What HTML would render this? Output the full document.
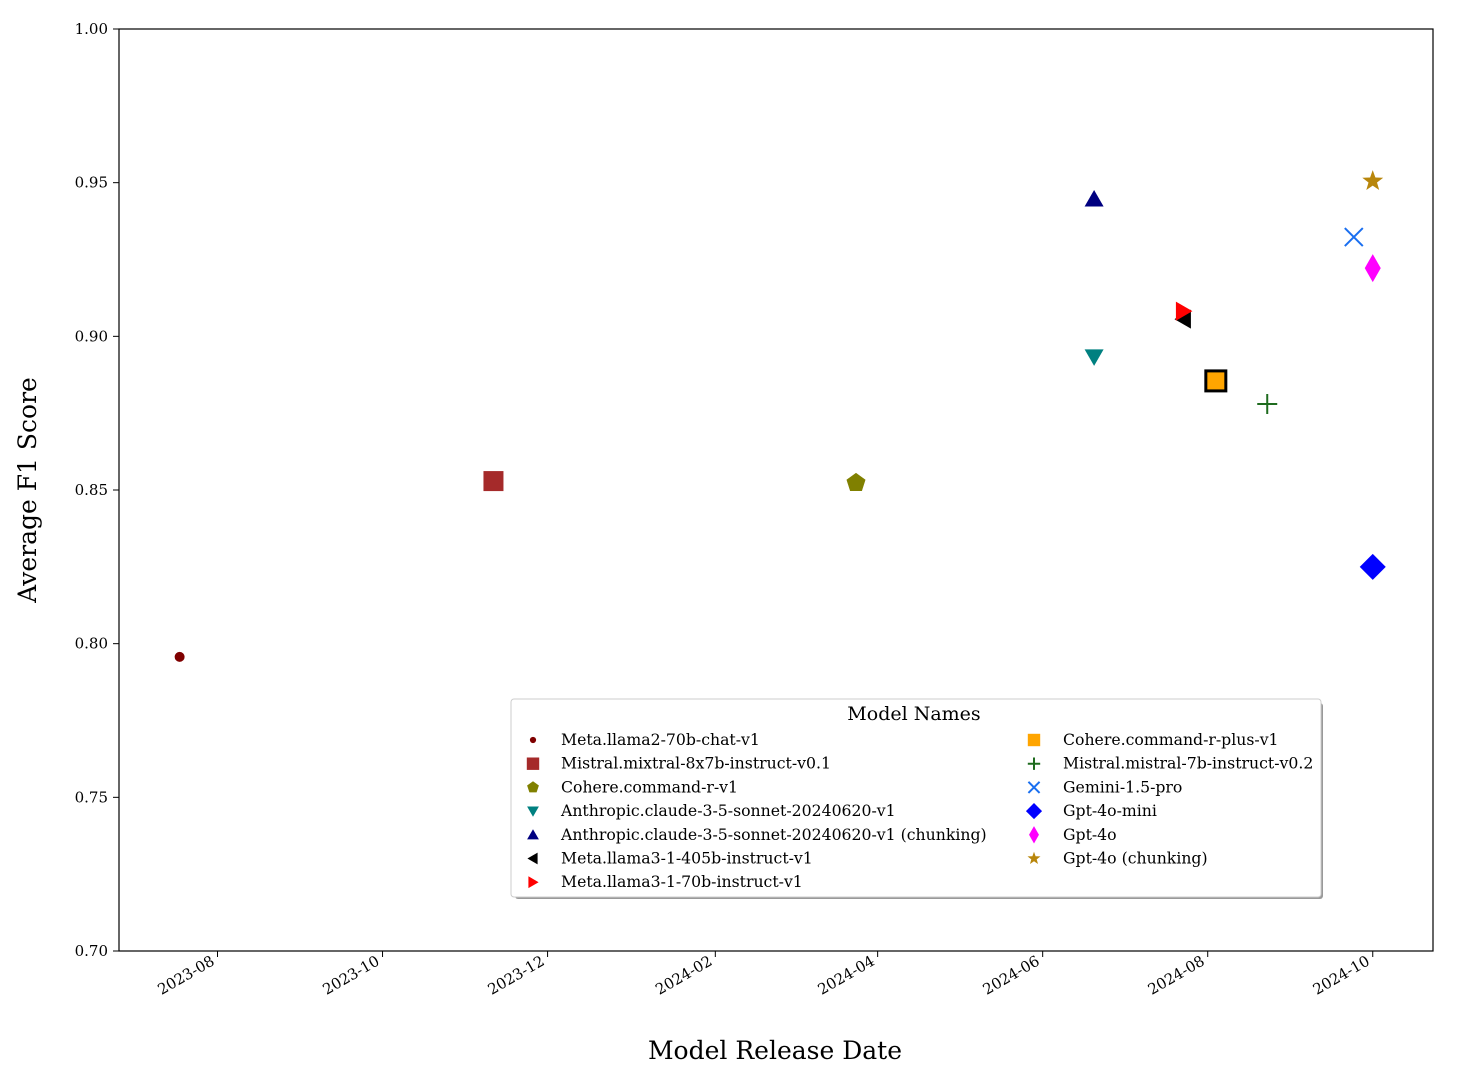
<!DOCTYPE html>
<html><head><meta charset="utf-8"><style>
body{margin:0;background:#fff}
svg{font-family:"DejaVu Serif","Liberation Serif",serif}
</style></head><body>
<svg id="chart" width="1459" height="1079" xmlns="http://www.w3.org/2000/svg">
<rect width="1459" height="1079" fill="#fff"/>
<g id="marks"></g>
<rect x="119" y="29" width="1314" height="922" fill="none" stroke="#000" stroke-width="1.2"/>
<g id="axes"></g>
<text x="775" y="1059" font-size="25" text-anchor="middle">Model Release Date</text>
<text transform="translate(36,490) rotate(-90)" font-size="25" text-anchor="middle">Average F1 Score</text>
<g id="legend"></g>
</svg>
<script>
const models=["Meta.llama2-70b-chat-v1","Mistral.mixtral-8x7b-instruct-v0.1","Cohere.command-r-v1","Anthropic.claude-3-5-sonnet-20240620-v1","Anthropic.claude-3-5-sonnet-20240620-v1 (chunking)","Meta.llama3-1-405b-instruct-v1","Meta.llama3-1-70b-instruct-v1","Cohere.command-r-plus-v1","Mistral.mistral-7b-instruct-v0.2","Gemini-1.5-pro","Gpt-4o-mini","Gpt-4o","Gpt-4o (chunking)"];
const dates=["2023-07-18","2023-11-11","2024-03-24","2024-06-20","2024-06-20","2024-07-23","2024-07-23","2024-08-04","2024-08-23","2024-09-24","2024-10-01","2024-10-01","2024-10-01"];
const scores=[0.7957,0.8529,0.8523,0.8933,0.9447,0.9056,0.9082,0.8855,0.878,0.9323,0.825,0.9222,0.9505];
const yTicks=[0.70,0.75,0.80,0.85,0.90,0.95,1.00];
const xTicks=["2023-08","2023-10","2023-12","2024-02","2024-04","2024-06","2024-08","2024-10"];
const shapes=["circle","square","pentagon","tridown","triup","trileft","triright","sqborder","plus","x","diamond","thindiamond","star"];
const colors=["#7f0000","#a52a2a","#808000","#008080","#000080","#000000","#ff0000","#ffa500","#1e6b1e","#1a6ff0","#0000ff","#ff00ff","#b8860b"];
const NS="http://www.w3.org/2000/svg";
const base=Date.UTC(2023,7,1);
function xs(d){const p=d.split("-").map(Number);const t=Date.UTC(p[0],p[1]-1,p[2]||1);return 217.5+(t-base)/86400000*2.7055;}
function ys(v){return 951-(v-0.70)/0.30*922;}
function el(tag,attrs,parent){const e=document.createElementNS(NS,tag);for(const k in attrs)e.setAttribute(k,attrs[k]);parent.appendChild(e);return e;}
function poly(n,r,rot,cx,cy){let p=[];for(let i=0;i<n;i++){const a=rot+i*2*Math.PI/n;p.push((cx+r*Math.cos(a)).toFixed(1)+","+(cy+r*Math.sin(a)).toFixed(1));}return p.join(" ");}
function marker(g,shape,c,cx,cy,s){
 let e;
 switch(shape){
 case"circle":e=el("circle",{cx,cy,r:5*s,fill:c},g);break;
 case"square":e=el("rect",{x:cx-10*s,y:cy-10*s,width:20*s,height:20*s,fill:c},g);break;
 case"sqborder":e=el("rect",{x:cx-10*s,y:cy-10*s,width:20*s,height:20*s,fill:c,stroke:s<1?"none":"#000","stroke-width":3},g);break;
 case"pentagon":e=el("polygon",{points:poly(5,10*s,-Math.PI/2,cx,cy),fill:c},g);break;
 case"triup":e=el("polygon",{points:poly(3,11*s,-Math.PI/2,cx,cy+2*s),fill:c},g);break;
 case"tridown":e=el("polygon",{points:poly(3,11*s,Math.PI/2,cx,cy-2*s),fill:c},g);break;
 case"trileft":e=el("polygon",{points:poly(3,11*s,Math.PI,cx+2*s,cy),fill:c},g);break;
 case"triright":e=el("polygon",{points:poly(3,11*s,0,cx-2*s,cy),fill:c},g);break;
 case"plus":e=el("path",{d:`M${cx-10*s},${cy}H${cx+10*s}M${cx},${cy-10*s}V${cy+10*s}`,stroke:c,"stroke-width":2,fill:"none"},g);break;
 case"x":e=el("path",{d:`M${cx-9*s},${cy-9*s}L${cx+9*s},${cy+9*s}M${cx-9*s},${cy+9*s}L${cx+9*s},${cy-9*s}`,stroke:c,"stroke-width":2,fill:"none"},g);break;
 case"diamond":e=el("polygon",{points:`${cx},${cy-13*s} ${cx+13*s},${cy} ${cx},${cy+13*s} ${cx-13*s},${cy}`,fill:c},g);break;
 case"thindiamond":e=el("polygon",{points:`${cx},${cy-14*s} ${cx+8*s},${cy} ${cx},${cy+14*s} ${cx-8*s},${cy}`,fill:c},g);break;
 case"star":{let p=[];for(let i=0;i<10;i++){const r=i%2?4.5*s:11*s;const a=-Math.PI/2+i*Math.PI/5;p.push((cx+r*Math.cos(a)).toFixed(1)+","+(cy+r*Math.sin(a)).toFixed(1));}e=el("polygon",{points:p.join(" "),fill:c},g);break;}
 }
 return e;
}
const marks=document.getElementById("marks");
models.forEach((m,i)=>{
 const g=el("g",{},marks);
 
 
 marker(g,shapes[i],colors[i],xs(dates[i]),ys(scores[i]),1);
});
const axes=document.getElementById("axes");
yTicks.forEach(v=>{
 const y=ys(v);
 el("line",{x1:113,x2:119,y1:y,y2:y,stroke:"#000"},axes);
 const t=el("text",{x:108,y:y+5,"font-size":15,"text-anchor":"end"},axes);
 t.textContent=v.toFixed(2);
 
 
});
xTicks.forEach(d=>{
 const x=xs(d);
 el("line",{x1:x,x2:x,y1:951,y2:957,stroke:"#000"},axes);
 const t=el("text",{x:x-2,y:964,"font-size":15,"text-anchor":"end",transform:`rotate(-30 ${x-2} 964)`},axes);
 t.textContent=d;
 
 
});
const lg=document.getElementById("legend");
el("rect",{x:515,y:703,width:808,height:196,fill:"#999",rx:3},lg);
el("rect",{x:511,y:699,width:810,height:198,fill:"#fff",stroke:"#ccc",rx:3},lg);
const lt=el("text",{x:914,y:720,"font-size":19,"text-anchor":"middle"},lg);
lt.textContent="Model Names";
models.forEach((m,i)=>{
 const col=i<7?0:1,row=i<7?i:i-7;
 const y=740+row*23.7;
 const mx=col?1034:533,tx=col?1063:561;
 const g=el("g",{},lg);
 
 
 marker(g,shapes[i],colors[i],mx,y,0.62);
 const t=el("text",{x:tx,y:y+5,"font-size":15.7},g);
 t.textContent=m;
});
</script>
</body></html>
